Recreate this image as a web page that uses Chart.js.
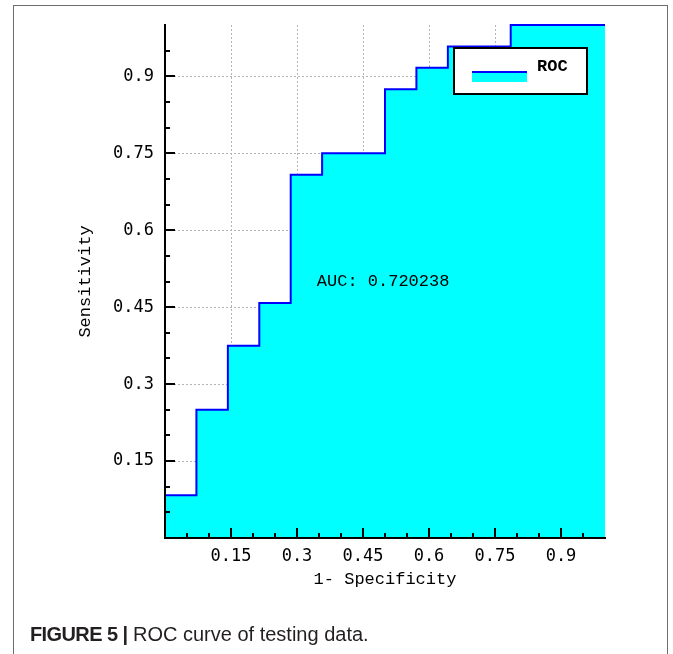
<!DOCTYPE html>
<html>
<head>
<meta charset="utf-8">
<script src="https://cdn.jsdelivr.net/npm/chart.js@4.4.1/dist/chart.umd.min.js"></script>
<style>
  body { margin: 0; background: #fff; }
  #wrap { position: relative; width: 673px; height: 654px; overflow: hidden; }
  #frame { position: absolute; left: 13px; top: 5px; width: 653px; height: 700px; border: 1px solid #6d6d6d; }
  #roc { position: absolute; left: 0; top: 0; }
  #caption { position: absolute; left: 30px; top: 623px; line-height: 23px; font-family: "Liberation Sans", Arial, sans-serif; font-size: 20px; color: #231f20; white-space: nowrap; }
  #caption b { letter-spacing: -0.6px; }
</style>
</head>
<body>
<div id="wrap">
  <div id="frame"></div>
  <canvas id="roc" width="673" height="654"></canvas>
  <div id="caption"><b>FIGURE 5 |</b> ROC curve of testing data.</div>
</div>
<script>
// ROC step points (1 - specificity, sensitivity)
const fpr = [0, 0.0714, 0.1429, 0.2143, 0.2857, 0.3571, 0.5, 0.5714, 0.6429, 0.7857, 1];
const tpr = [0.0833, 0.25, 0.375, 0.4583, 0.7083, 0.75, 0.875, 0.9167, 0.9583, 1, 1];
const aucValue = 0.720238;
const tickStep = 0.15;

const monoTick = { family: 'DejaVu Sans Mono', size: 17 };
const monoText = { family: 'Liberation Mono', size: 17 };

// inward tick marks (major every 0.15, minor every 0.05)
const innerTicks = {
    id: 'innerTicks',
    afterDatasetsDraw(chart) {
        const { ctx, chartArea: a, scales: { x, y } } = chart;
        ctx.save();
        ctx.strokeStyle = '#000';
        ctx.lineWidth = 2;
        for (let i = 1; i < 20; i++) {
            const len = i % 3 === 0 ? 10 : 5;
            const px = Math.round(x.getPixelForValue(i * 0.05));
            const py = Math.round(y.getPixelForValue(i * 0.05));
            ctx.beginPath();
            ctx.moveTo(px, a.bottom);
            ctx.lineTo(px, a.bottom - len);
            ctx.moveTo(a.left, py);
            ctx.lineTo(a.left + len, py);
            ctx.stroke();
        }
        ctx.restore();
    }
};

// AUC label and the boxed legend
const notes = {
    id: 'notes',
    afterDraw(chart) {
        const { ctx, chartArea: a, scales: { x, y } } = chart;
        ctx.save();
        ctx.fillStyle = '#000';
        ctx.font = monoText.size + 'px "' + monoText.family + '"';
        ctx.textBaseline = 'middle';
        ctx.fillText('AUC: ' + aucValue, x.getPixelForValue(0.345), y.getPixelForValue(0.5));

        const lx = a.right - 151, ly = a.top + 23, lw = 133, lh = 46;
        ctx.fillStyle = '#fff';
        ctx.fillRect(lx, ly, lw, lh);
        ctx.strokeStyle = '#000';
        ctx.lineWidth = 2;
        ctx.strokeRect(lx, ly, lw, lh);
        ctx.fillStyle = '#00ffff';
        ctx.fillRect(lx + 18, ly + 24, 55, 10);
        ctx.strokeStyle = '#0000ff';
        ctx.beginPath();
        ctx.moveTo(lx + 18, ly + 24);
        ctx.lineTo(lx + 73, ly + 24);
        ctx.stroke();
        ctx.fillStyle = '#000';
        ctx.font = 'bold ' + monoText.size + 'px "' + monoText.family + '"';
        ctx.fillText(chart.data.datasets[0].label, lx + 83, ly + 19);
        ctx.restore();
    }
};

function gridColor(c) {
    const v = c.tick ? c.tick.value : null;
    return (v === 0 || v === 1) ? 'rgba(0,0,0,0)' : '#b4b4b4';
}
function tickLabel(v) {
    return (v === 0 || v === 1) ? '' : String(v);
}

new Chart(document.getElementById('roc'), {
    type: 'line',
    data: {
        datasets: [{
            label: 'ROC',
            data: fpr.map((v, i) => ({ x: v, y: tpr[i] })),
            stepped: true,
            borderColor: '#0000ff',
            borderWidth: 2,
            backgroundColor: '#00ffff',
            fill: 'origin',
            pointRadius: 0,
            clip: 4
        }]
    },
    options: {
        responsive: false,
        animation: false,
        layout: { padding: { left: 75, top: 25, right: 68, bottom: 64 } },
        plugins: { legend: { display: false }, tooltip: { enabled: false } },
        scales: {
            x: {
                type: 'linear',
                min: 0,
                max: 1,
                afterFit(s) { s.height = 52; },
                ticks: { stepSize: tickStep, autoSkip: false, maxRotation: 0, padding: 8, color: '#000', font: monoTick, callback: tickLabel },
                grid: { color: gridColor, drawTicks: false },
                border: { color: '#000', width: 2, dash: [2, 2], z: 1 },
                title: { display: true, text: '1- Specificity', color: '#000', font: monoText, padding: 0 }
            },
            y: {
                type: 'linear',
                min: 0,
                max: 1,
                afterFit(s) { s.width = 90; },
                ticks: { stepSize: tickStep, autoSkip: false, padding: 11, color: '#000', font: monoTick, callback: tickLabel },
                grid: { color: gridColor, drawTicks: false },
                border: { color: '#000', width: 2, dash: [2, 2], z: 1 },
                title: { display: true, text: 'Sensitivity', color: '#000', font: monoText, padding: 0 }
            }
        }
    },
    plugins: [innerTicks, notes]
});
</script>
</body>
</html>
